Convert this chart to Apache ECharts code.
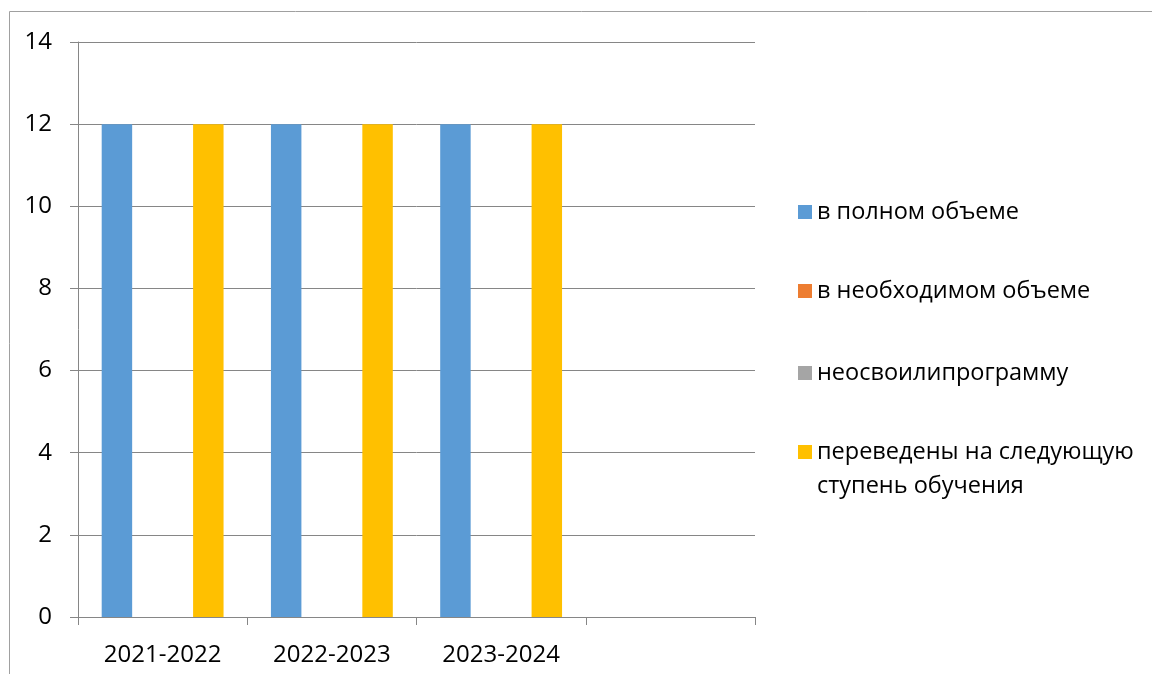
<!DOCTYPE html>
<html>
<head>
<meta charset="utf-8">
<script src="https://cdn.jsdelivr.net/npm/echarts@6/dist/echarts.min.js"></script>
<style>html,body{margin:0;padding:0;background:#fff}#c{width:1152px;height:674px}</style>
</head>
<body>
<div id="c"></div>
<script>
const categories = ['2021-2022', '2022-2023', '2023-2024', ''];
const seriesNames = ['в полном объеме', 'в необходимом объеме', 'неосвоилипрограмму', 'переведены на следующую ступень обучения'];
const fullVolume = [12, 12, 12, null];
const requiredVolume = [0, 0, 0, null];
const notMastered = [0, 0, 0, null];
const promoted = [12, 12, 12, null];
const yTicks = [0, 2, 4, 6, 8, 10, 12, 14];
const colors = ['#5B9BD5', '#ED7D31', '#A5A5A5', '#FFC000'];

const FONT = 'Open Sans';
const FS = 24;
const LFS = 23.5;
const LH = 34;
const chart = echarts.init(document.getElementById('c'));
const legendCenters = [212, 291, 373, 452];
const legends = seriesNames.map((n, i) => ({
  orient: 'vertical',
  left: 798,
  top: legendCenters[i] - (i === 3 ? LH * 1.5 : LH / 2),
  itemWidth: 14,
  itemHeight: 14,
  itemGap: 0,
  padding: 0,
  icon: 'rect',
  selectedMode: false,
  data: [n],
  formatter: i === 3 ? ' \nпереведены на следующую\nступень обучения' : '{name}',
  textStyle: { fontFamily: FONT, fontSize: LFS, color: '#000', lineHeight: LH }
}));
const data = [fullVolume, requiredVolume, notMastered, promoted];
chart.setOption({
  animation: false,
  color: colors,
  graphic: [{
    type: 'rect', shape: { x: 9.5, y: 11.5, width: 1200, height: 700 },
    style: { fill: 'none', stroke: '#A0A0A0', lineWidth: 1 }, silent: true
  }],
  legend: legends,
  grid: { left: 78, right: 397, top: 42, bottom: 57, containLabel: false },
  xAxis: {
    type: 'category', data: categories,
    axisLine: { lineStyle: { color: '#868686', width: 1 } },
    axisTick: { show: true, length: 8, lineStyle: { color: '#868686' } },
    axisLabel: { fontFamily: FONT, fontSize: FS, color: '#000', margin: 26 }
  },
  yAxis: {
    type: 'value', min: 0, max: 14, interval: 2,
    axisLine: { show: true, lineStyle: { color: '#868686' } },
    axisTick: { show: true, length: 8, lineStyle: { color: '#868686' } },
    splitLine: { lineStyle: { color: '#868686' } },
    axisLabel: { fontFamily: FONT, fontSize: FS, color: '#000', margin: 26,
      formatter: v => yTicks.includes(v) ? String(v) : '' }
  },
  series: seriesNames.map((n, i) => ({
    name: n, type: 'bar', data: data[i],
    barGap: '0%', barCategoryGap: '28%'
  }))
});
</script>
</body>
</html>
